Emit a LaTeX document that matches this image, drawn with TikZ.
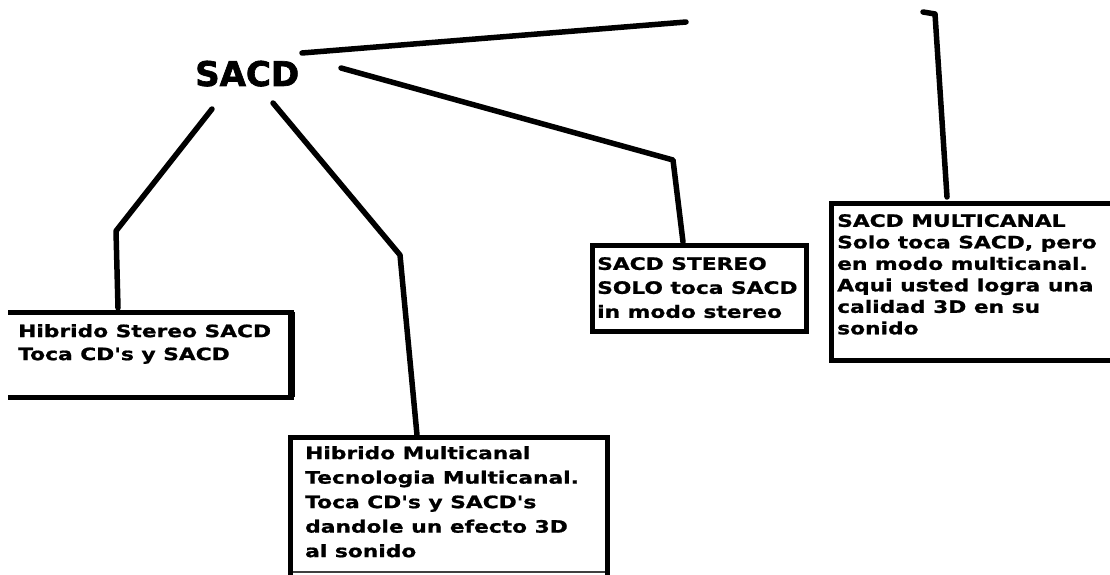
\documentclass[tikz,border=0pt]{standalone}
\usepackage{fontspec}
\newfontfamily\boxfont[FakeStretch=1.28, FakeBold=1]{DejaVu Sans Bold}
\newfontfamily\titlefont[FakeBold=2]{DejaVu Sans Bold}
\begin{document}
\begin{tikzpicture}[x=1pt,y=-1pt,
  conn/.style={line width=5.5pt, line join=round, line cap=round},
  frame/.style={line width=5pt, line cap=rect},
  boxtext/.style={anchor=north west, inner sep=0pt, align=left, font={\boxfont\fontsize{17}{#1}\selectfont}}
]
\useasboundingbox (0,0) rectangle (1110,575);
\fill[white] (0,0) rectangle (1110,575);

% title
\node[font={\titlefont\fontsize{34}{40}\selectfont}, anchor=base west, inner sep=0pt] (sacd) at (195,86) {SACD};

% connector coordinates
\coordinate (a0) at (302,53);
\coordinate (a1) at (686,22);
\coordinate (b0) at (923,12);
\coordinate (b1) at (935,14);
\coordinate (b2) at (947,197);
\coordinate (c0) at (341,68);
\coordinate (c1) at (673,160);
\coordinate (c2) at (683,242);
\coordinate (d0) at (212,109);
\coordinate (d1) at (116,231);
\coordinate (d2) at (118,308);
\coordinate (e0) at (273,103);
\coordinate (e1) at (400,255);
\coordinate (e2) at (417,435);

\draw[conn] (a0) -- (a1);
\draw[conn] (b0) -- (b1) -- (b2);
\draw[conn] (c0) -- (c1) -- (c2);
\draw[conn] (d0) -- (d1) -- (d2);
\draw[conn] (e0) -- (e1) -- (e2);

% box 1 (left side open)
\coordinate (p1a) at (10,312);
\coordinate (p1b) at (291,312);
\coordinate (p1c) at (291,397);
\coordinate (p1d) at (10,397);
\draw[frame] (p1a) -- (p1b);
\draw[frame] (p1d) -- (p1c);
\draw[line width=7pt] (p1b) -- (p1c);

% box 2
\coordinate (p2a) at (290,437);
\coordinate (p2b) at (607,437);
\coordinate (p2c) at (607,572);
\coordinate (p2d) at (290,572);
\draw[line width=2.5pt, black!75] (p2d) -- (p2c);
\draw[frame] (p2d) -- (p2a) -- (p2b) -- (p2c);

% box 3
\coordinate (p3a) at (592,245);
\coordinate (p3c) at (806,331);
\draw[frame] (p3a) rectangle (p3c);

% box 4 (right side cut off)
\coordinate (p4a) at (1115,203);
\coordinate (p4b) at (831,203);
\coordinate (p4c) at (831,360);
\coordinate (p4d) at (1115,360);
\draw[frame] (p4a) -- (p4b) -- (p4c) -- (p4d);

% texts
\node[boxtext=23pt] (t1) at (18,324) {Hibrido Stereo SACD\\Toca CD's y SACD};
\node[boxtext=24.5pt] (t2) at (305,446) {Hibrido Multicanal\\Tecnologia Multicanal.\\Toca CD's y SACD's\\dandole un efecto 3D\\al sonido};
\node[boxtext=24pt] (t3) at (597,257) {SACD STEREO\\SOLO toca SACD\\in modo stereo};
\node[boxtext=21.5pt] (t4) at (837,214) {SACD MULTICANAL\\Solo toca SACD, pero\\en modo multicanal.\\Aqui usted logra una\\calidad 3D en su\\sonido};
\end{tikzpicture}
\end{document}
